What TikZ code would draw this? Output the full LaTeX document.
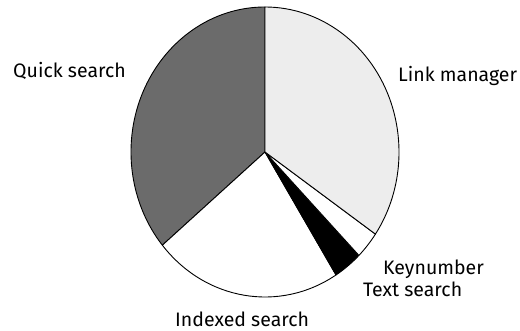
\documentclass[tikz,border=0pt]{standalone}
\usepackage{fontspec}
\setmainfont{Fira Sans}
\usetikzlibrary{calc}
\begin{document}
\begin{tikzpicture}[x=1pt,y=1pt,
  slice/.style={draw=black, line width=0.9pt, line join=round},
  lbl/.style={anchor=base west, inner sep=0pt, font=\fontsize{19.5}{22}\selectfont}]
\useasboundingbox (0,0) rectangle (520,331);
\coordinate (c) at (265,179);
\def\rx{134}\def\ry{145}
% pie slices, angles measured on the ellipse
\newcommand\pieslice[3]{%
  \filldraw[slice, fill=#3] (c) -- ($(c)+({\rx*cos(#1)},{\ry*sin(#1)})$)
    arc[start angle=#1, end angle=#2, x radius=\rx, y radius=\ry] -- cycle;}
\pieslice{90}{220}{black!58}
\pieslice{220}{302}{white}
\pieslice{302}{314.5}{black}
\pieslice{314.5}{325.5}{white}
\pieslice{325.5}{450}{black!7}
% labels
\node[lbl] (quick) at (13,253) {Quick search};
\node[lbl] (link) at (398,249) {Link manager};
\node[lbl] (key) at (383,56) {Keynumber};
\node[lbl] (text) at (363,34) {Text search};
\node[lbl, text depth=0pt] (indexed) at (175,4.5) {Indexed search};
\end{tikzpicture}
\end{document}
